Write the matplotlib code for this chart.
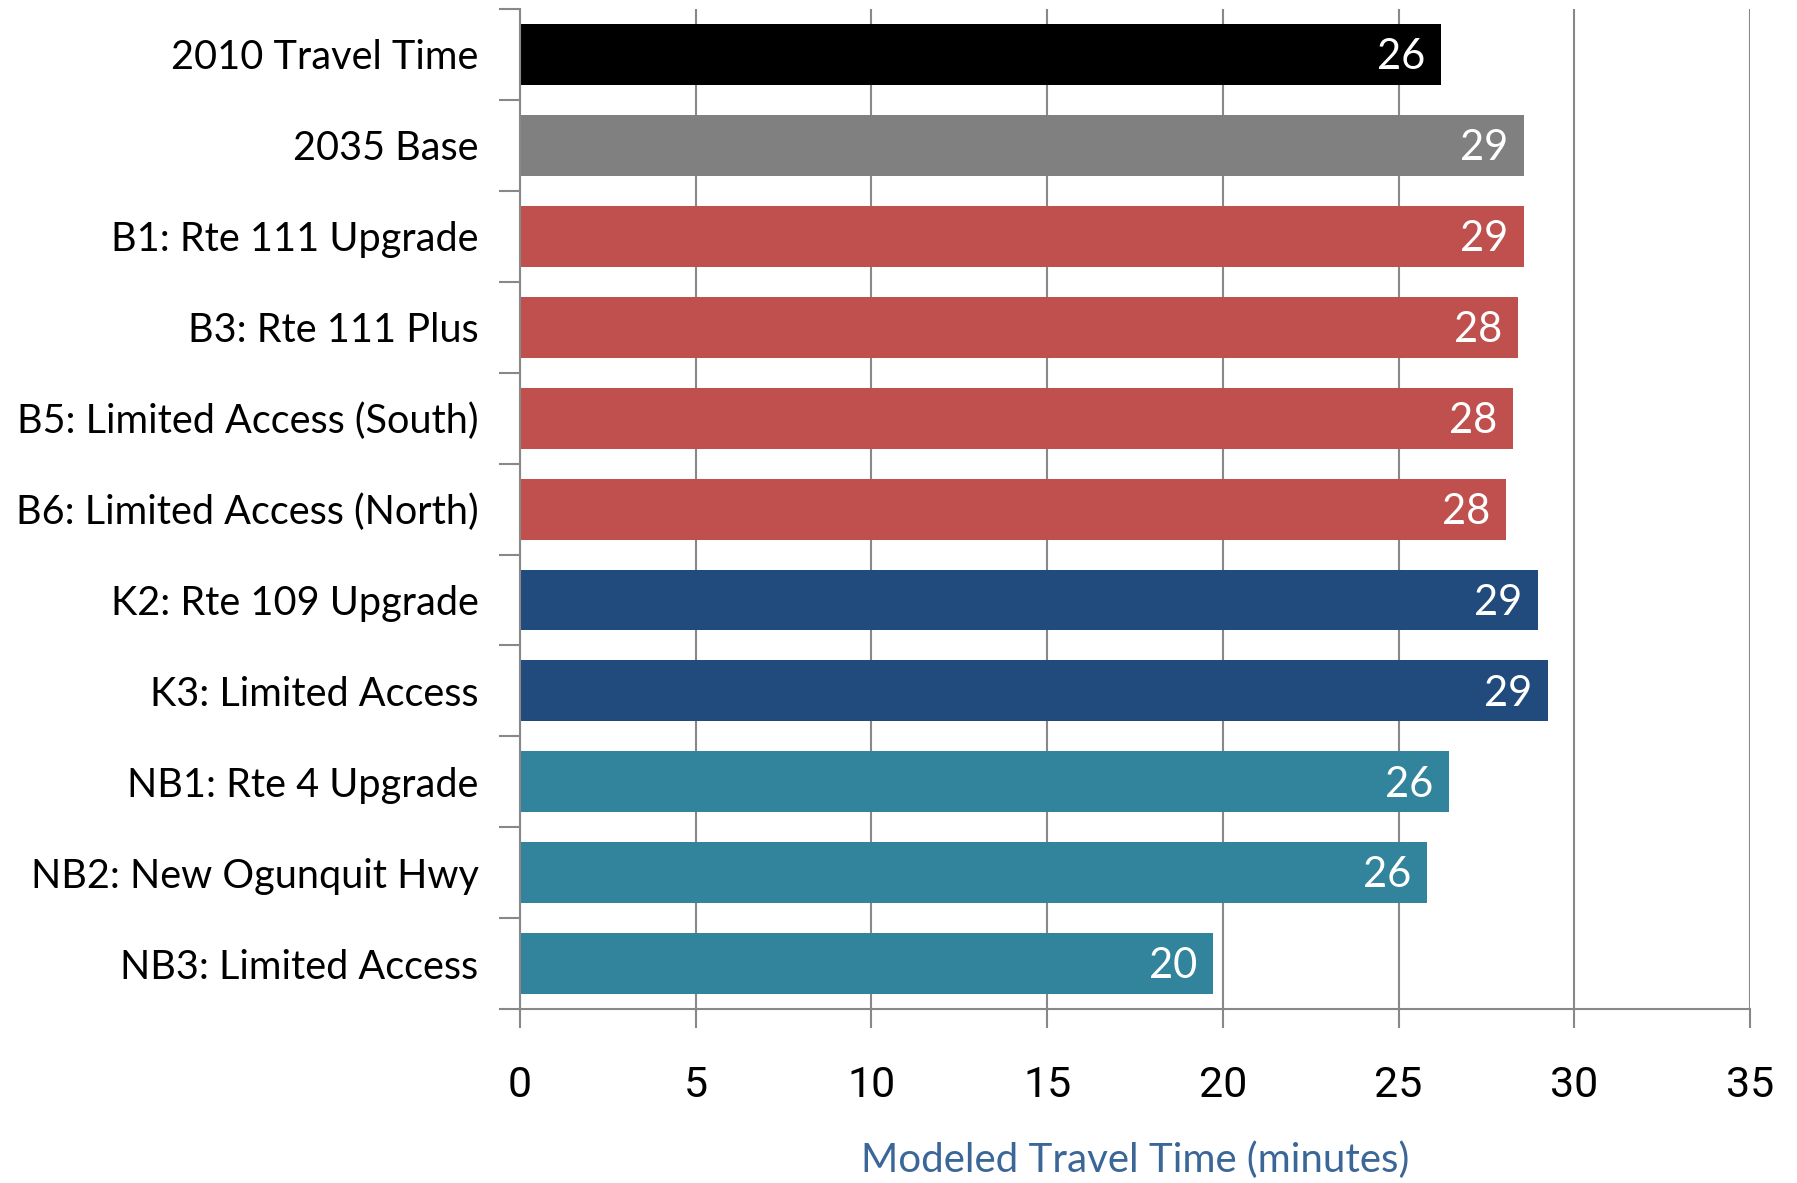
import matplotlib
matplotlib.use("Agg")
import matplotlib.pyplot as plt
import numpy as np

categories = [
    "2010 Travel Time",
    "2035 Base",
    "B1: Rte 111 Upgrade",
    "B3: Rte 111 Plus",
    "B5: Limited Access (South)",
    "B6: Limited Access (North)",
    "K2: Rte 109 Upgrade",
    "K3: Limited Access",
    "NB1: Rte 4 Upgrade",
    "NB2: New Ogunquit Hwy",
    "NB3: Limited Access",
]
values = [26.2, 28.57, 28.58, 28.41, 28.25, 28.05, 28.97, 29.26, 26.43, 25.81, 19.71]
colors = ["#000000", "#808080", "#C0504D", "#C0504D", "#C0504D", "#C0504D",
          "#214A7D", "#214A7D", "#31849B", "#31849B", "#31849B"]
xticks = [0, 5, 10, 15, 20, 25, 30, 35]
xlabel = "Modeled Travel Time (minutes)"

fig = plt.figure(figsize=(17.97, 11.83), dpi=100)
ax = fig.add_axes([0.2894, 0.147, 0.9739 - 0.2894, 0.9924 - 0.147])

y = np.arange(len(categories))
ax.barh(y, values, height=0.67, color=colors, zorder=3)
ax.set_ylim(len(categories) - 0.5, -0.5)
ax.set_xlim(0, 35)

gray = "#888888"
ax.set_xticks(xticks)
ax.set_xticklabels([str(t) for t in xticks], fontfamily="Roboto", fontsize=31)
ax.tick_params(axis="x", length=14, width=1.5, color=gray, pad=26)
ax.xaxis.grid(True, color=gray, linewidth=1.5, zorder=0)

ax.set_yticks(y)
ax.set_yticklabels(categories, fontfamily="Lato", fontsize=28.5)
ax.tick_params(axis="y", which="major", length=0, pad=30)
ax.set_yticks(np.arange(-0.5, len(categories) + 0.5, 1), minor=True)
ax.tick_params(axis="y", which="minor", length=15, width=1.5, color=gray)

for s in ["top", "right"]:
    ax.spines[s].set_visible(False)
for s in ["left", "bottom"]:
    ax.spines[s].set_color(gray)
    ax.spines[s].set_linewidth(1.5)
ax.spines["left"].set_zorder(4)

for yi, v in zip(y, values):
    ax.text(v - 0.45, yi + 0.03, f"{v:.0f}", ha="right", va="center", color="white",
            fontfamily="Lato", fontsize=30, zorder=5)

ax.set_xlabel(xlabel, fontfamily="Lato", fontsize=29, color="#3B6698", labelpad=26)

fig.savefig("out.png", dpi=100)
